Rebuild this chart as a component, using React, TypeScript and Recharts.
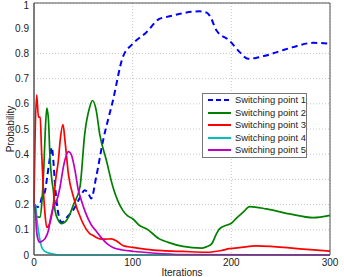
import React from "react";
import {
  LineChart,
  Line,
  XAxis,
  YAxis,
  CartesianGrid,
  Legend,
  ReferenceArea,
} from "recharts";

// iteration positions and probabilities, one pair per switching point
const SP1_X = [0, 3, 6, 8, 11, 13, 16.2, 18, 19.6, 21.3, 24.7, 28, 35, 40, 46.6, 51.4, 55, 58, 63, 70, 80, 90, 100, 114, 127, 134, 148, 160, 168, 175, 178, 185, 198, 208.5, 217, 225, 235.5, 250, 262.5, 283, 300];
const SP1_Y = [0.2, 0.19, 0.2, 0.23, 0.25, 0.3, 0.388, 0.428, 0.375, 0.28, 0.163, 0.13, 0.157, 0.18, 0.228, 0.257, 0.245, 0.224, 0.309, 0.454, 0.613, 0.785, 0.838, 0.884, 0.937, 0.944, 0.957, 0.965, 0.967, 0.962, 0.95, 0.891, 0.851, 0.805, 0.779, 0.782, 0.792, 0.81, 0.825, 0.842, 0.838];

const SP2_X = [0, 2, 4, 6, 8, 10, 11.5, 13, 14.6, 16.2, 18, 19.6, 21.3, 24.7, 28, 35, 40, 46.6, 51.4, 56.5, 59.2, 63, 66.6, 73.4, 80, 90, 95, 100, 107, 114, 127, 136, 151, 170, 175, 180, 185, 188, 195, 200, 205, 212, 218.6, 235.5, 259, 283, 300];
const SP2_Y = [0.2, 0.16, 0.15, 0.15, 0.21, 0.35, 0.5, 0.583, 0.54, 0.388, 0.3, 0.256, 0.177, 0.137, 0.124, 0.15, 0.2, 0.27, 0.48, 0.587, 0.613, 0.575, 0.48, 0.375, 0.27, 0.177, 0.155, 0.144, 0.117, 0.104, 0.064, 0.05, 0.034, 0.027, 0.033, 0.044, 0.085, 0.104, 0.118, 0.126, 0.145, 0.17, 0.192, 0.183, 0.163, 0.148, 0.157];

const SP3_X = [0, 1, 2.7, 4.5, 6.3, 7.5, 9.5, 11, 12.9, 14, 17, 19.6, 22, 24.7, 26.4, 29.4, 31.4, 34.9, 40, 48.3, 56.5, 60, 66.6, 72, 78.4, 84, 90, 100, 114, 130, 151, 175, 190, 198, 210, 225, 240, 259, 280, 300];
const SP3_Y = [0.2, 0.45, 0.636, 0.547, 0.547, 0.43, 0.256, 0.17, 0.11, 0.112, 0.14, 0.2, 0.3, 0.375, 0.45, 0.517, 0.454, 0.32, 0.23, 0.137, 0.085, 0.077, 0.064, 0.063, 0.064, 0.055, 0.038, 0.03, 0.022, 0.017, 0.014, 0.011, 0.018, 0.025, 0.03, 0.036, 0.034, 0.028, 0.021, 0.015];

const SP4_X = [0, 1.7, 2.7, 4.5, 6, 7.8, 10, 12.9, 16, 19.6, 25, 300];
const SP4_Y = [0.2, 0.2, 0.15, 0.097, 0.06, 0.031, 0.018, 0.011, 0.007, 0.004, 0, 0];

const SP5_X = [0, 1, 2.5, 4.5, 6, 8, 11, 14.6, 17, 19.6, 23, 26.4, 29.8, 34.9, 37.6, 41.6, 45, 47.7, 52, 58, 63, 68, 74, 80, 90, 100, 120, 150, 300];
const SP5_Y = [0.2, 0.2, 0.1, 0.057, 0.05, 0.055, 0.064, 0.097, 0.15, 0.19, 0.216, 0.27, 0.35, 0.41, 0.4, 0.335, 0.256, 0.22, 0.17, 0.12, 0.095, 0.07, 0.045, 0.03, 0.02, 0.015, 0.008, 0.002, 0];

const X_TICKS = [0, 100, 200, 300];
const Y_TICKS = [0, 0.1, 0.2, 0.3, 0.4, 0.5, 0.6, 0.7, 0.8, 0.9, 1];

const NAMES = ["Switching point 1", "Switching point 2", "Switching point 3", "Switching point 4", "Switching point 5"];
const COLORS = ["#0000ff", "#008000", "#ff0000", "#00bfbf", "#bf00bf"];

const zip = (xs: number[], ys: number[]) => xs.map((x, i) => ({ x, y: ys[i] }));

const SERIES = [
  zip(SP1_X, SP1_Y),
  zip(SP2_X, SP2_Y),
  zip(SP3_X, SP3_Y),
  zip(SP4_X, SP4_Y),
  zip(SP5_X, SP5_Y),
];

const FONT = "'Liberation Sans', Arial, sans-serif";

// matlab style boxed legend
const renderLegend = () => (
  <div
    style={{
      width: 105,
      boxSizing: "border-box",
      border: "1px solid #777",
      background: "#fff",
      padding: "0 2px 0 4px",
      fontFamily: FONT,
      fontSize: 9.4,
      fontWeight: 400,
      color: "#222",
      lineHeight: "12.5px",
    }}
  >
    {NAMES.map((name, i) => (
      <div key={name} style={{ display: "flex", alignItems: "center", height: 12.5 }}>
        <svg width={25} height={6} style={{ marginRight: 3, flexShrink: 0 }}>
          <line
            x1={1}
            x2={24}
            y1={3}
            y2={3}
            stroke={COLORS[i]}
            strokeWidth={2}
            strokeDasharray={i === 0 ? "5 3" : undefined}
          />
        </svg>
        <span style={{ whiteSpace: "nowrap" }}>{name}</span>
      </div>
    ))}
  </div>
);

const yFmt = (v: number) => (v === 0 || v === 1 ? String(v) : v.toFixed(1));

export default function App() {
  return (
    <div style={{ position: "absolute", left: 0, top: 0, background: "#fff", fontFamily: FONT }}>
      <LineChart width={344} height={277} margin={{ top: 3, right: 14, bottom: 0, left: 0 }}>
        <CartesianGrid stroke="#c8c8c8" strokeDasharray="1 2" ticks={Y_TICKS} />
        <XAxis
          dataKey="x"
          type="number"
          domain={[0, 300]}
          ticks={X_TICKS}
          height={22}
          tickSize={3}
          tickMargin={1}
          tickLine={false}
          axisLine={{ stroke: "#555" }}
          tick={{ fill: "#222", fontSize: 10, fontFamily: FONT }}
          label={{ value: "Iterations", position: "insideBottom", offset: 1, fill: "#222", fontSize: 10, fontFamily: FONT }}
        />
        <YAxis
          type="number"
          domain={[0, 1]}
          ticks={Y_TICKS}
          width={34}
          tickSize={3}
          tickMargin={2}
          tickLine={false}
          tickFormatter={yFmt}
          axisLine={{ stroke: "#555" }}
          tick={{ fill: "#222", fontSize: 10, fontFamily: FONT }}
          label={{
            value: "Probability",
            angle: -90,
            position: "insideLeft",
            offset: 10,
            fill: "#222",
            fontSize: 10,
            fontFamily: FONT,
            style: { textAnchor: "middle" },
          }}
        />
        <ReferenceArea x1={0} x2={300} y1={0} y2={1} fill="none" stroke="#555" strokeWidth={1} />
        {SERIES.map((data, i) => (
          <Line
            key={NAMES[i]}
            data={data}
            dataKey="y"
            name={NAMES[i]}
            type="monotone"
            stroke={COLORS[i]}
            strokeWidth={i === 0 ? 2 : 1.7}
            strokeDasharray={i === 0 ? "6 4" : undefined}
            dot={false}
            activeDot={false}
            isAnimationActive={false}
          />
        ))}
        <Legend
          layout="vertical"
          align="center"
          verticalAlign="middle"
          content={renderLegend}
          wrapperStyle={{ left: 202, top: 93, right: "auto", bottom: "auto", width: "auto" }}
        />
      </LineChart>
    </div>
  );
}
